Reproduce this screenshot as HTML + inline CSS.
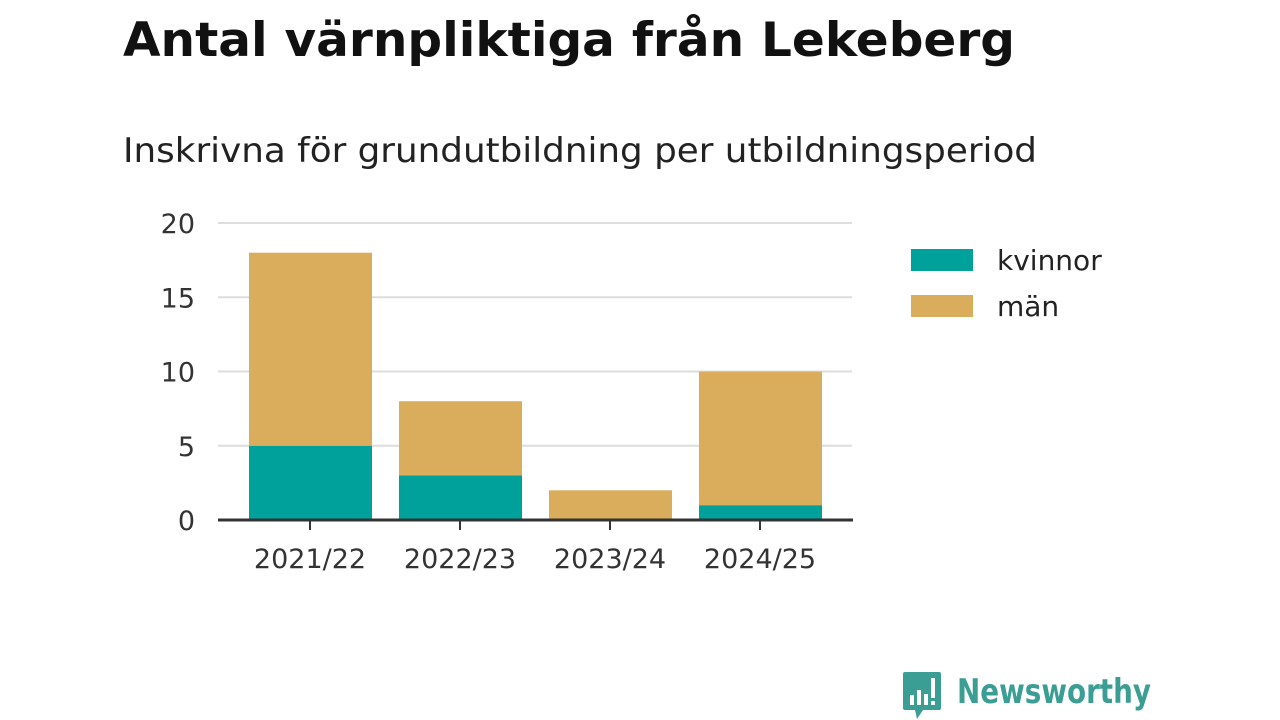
<!DOCTYPE html>
<html><head><meta charset="utf-8"><style>
html,body{margin:0;padding:0;background:#fff;width:1280px;height:720px;overflow:hidden}
svg{display:block}
text{font-family:"DejaVu Sans","Liberation Sans",sans-serif}
</style></head><body>
<svg id="c" width="1280" height="720">
<text x="123" y="56" font-size="47" font-weight="bold" fill="#111" textLength="892" lengthAdjust="spacingAndGlyphs">Antal värnpliktiga från Lekeberg</text>
<text x="123" y="162" font-size="34" fill="#222" textLength="914" lengthAdjust="spacingAndGlyphs">Inskrivna för grundutbildning per utbildningsperiod</text>
<g id="grid"></g><g id="bars"></g><g id="xaxis"></g>
<g>
<rect x="911" y="249" width="62" height="22" fill="#00a19a"/>
<text x="997" y="270" font-size="28" fill="#222">kvinnor</text>
<rect x="911" y="295" width="62" height="22" fill="#d9ad5b"/>
<text x="997" y="316" font-size="28" fill="#222">män</text>
</g>
<g>
<path d="M905 672 h34 a2 2 0 0 1 2 2 v34 a2 2 0 0 1 -2 2 h-16 l-6 9 l-2 -9 h-10 a2 2 0 0 1 -2 -2 v-34 a2 2 0 0 1 2 -2z" fill="#3a9e95"/>
<rect x="910" y="695" width="4" height="10" fill="#fff"/><rect x="917" y="690" width="4" height="15" fill="#fff"/><rect x="924" y="694" width="4" height="11" fill="#fff"/><rect x="931" y="678" width="4" height="20" fill="#fff"/><rect x="931" y="701" width="4" height="4" fill="#fff"/>
<text x="957" y="703" font-size="34" font-weight="bold" fill="#3a9e95" font-family="Liberation Sans,sans-serif" textLength="194" lengthAdjust="spacingAndGlyphs">Newsworthy</text>
</g>
</svg>
<script>
const categories=["2021/22","2022/23","2023/24","2024/25"];
const kvinnor=[5,3,0,1];
const man=[13,5,2,9];
const yTicks=[0,5,10,15,20];
const NS="http://www.w3.org/2000/svg";
const y=v=>520-v*14.85;
const bandX=i=>235+i*150;
function mk(tag,attrs,parent,txt){const e=document.createElementNS(NS,tag);for(const k in attrs)e.setAttribute(k,attrs[k]);if(txt!==undefined)e.textContent=txt;document.getElementById(parent).appendChild(e);return e;}
yTicks.forEach(t=>{
  if(t>0){const l=mk('line',{x1:218,x2:852,y1:y(t),y2:y(t),stroke:'#ddd','stroke-width':2},'grid');
  
  }
  const tx=mk('text',{x:195,y:y(t)+10,'font-size':27,fill:'#333','text-anchor':'end'},'grid',t);
  
  
});
categories.forEach((c,i)=>{
  const x=bandX(i)+14,w=123;
  const b1=mk('rect',{x:x,y:y(kvinnor[i]),width:w,height:y(0)-y(kvinnor[i]),fill:'#00a19a'},'bars');
  
  
  const b2=mk('rect',{x:x,y:y(kvinnor[i]+man[i]),width:w,height:y(kvinnor[i])-y(kvinnor[i]+man[i]),fill:'#d9ad5b'},'bars');
  
  
  const cx=bandX(i)+75;
  mk('line',{x1:cx,x2:cx,y1:520,y2:530,stroke:'#333','stroke-width':2},'xaxis');
  const t=mk('text',{x:cx,y:568,'font-size':27,fill:'#333','text-anchor':'middle'},'xaxis',c);
  
  
});
const ax=mk('line',{x1:218,x2:853,y1:520,y2:520,stroke:'#333','stroke-width':3},'xaxis');


</script>
</body></html>
